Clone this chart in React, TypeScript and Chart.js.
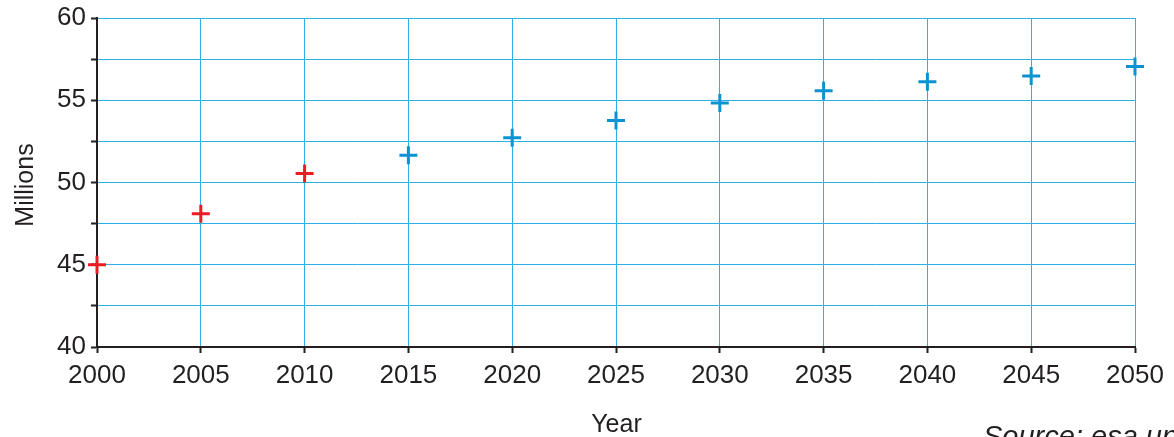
import React, { useEffect, useRef } from "react";
import { Chart, registerables } from "chart.js";

Chart.register(...registerables);

const actualYears = [2000, 2005, 2010];
const actualValues = [45.0, 48.1, 50.55];
const projectedYears = [2015, 2020, 2025, 2030, 2035, 2040, 2045, 2050];
const projectedValues = [51.66, 52.72, 53.77, 54.84, 55.57, 56.12, 56.48, 57.05];
const yLabelTicks = [40, 45, 50, 55, 60];
const xTitle = "Year";
const yTitle = "Millions";
const sourceText = "Source: esa.un.org";

const FONT = "'Liberation Sans', Arial, Helvetica, sans-serif";
const INK = "#231f20";
const GRID = "#29b0e6";

export default function App() {
  const ref = useRef<HTMLCanvasElement>(null);
  useEffect(() => {
    if (!ref.current) return;
    const titles = {
      id: "titles",
      afterDraw(chart: any) {
        const ctx = chart.ctx;
        ctx.save();
        ctx.fillStyle = INK;
        ctx.font = `25px ${FONT}`;
        ctx.textAlign = "center";
        ctx.textBaseline = "alphabetic";
        ctx.fillText(xTitle, 616.5, 432);
        ctx.save();
        ctx.translate(33, 185);
        ctx.rotate(-Math.PI / 2);
        ctx.fillText(yTitle, 0, 0);
        ctx.restore();
        ctx.font = `italic 29px ${FONT}`;
        ctx.textAlign = "left";
        ctx.fillText(sourceText, 983, 446);
        ctx.restore();
      },
    };
    const chart = new Chart(ref.current, {
      type: "scatter",
      data: {
        datasets: [
          {
            data: actualYears.map((x, i) => ({ x, y: actualValues[i] })),
            pointStyle: "cross",
            pointRadius: 9,
            pointBorderWidth: 3,
            borderColor: "#ed1c24",
            backgroundColor: "#ed1c24",
            clip: false,
          } as any,
          {
            data: projectedYears.map((x, i) => ({ x, y: projectedValues[i] })),
            pointStyle: "cross",
            pointRadius: 9,
            pointBorderWidth: 3,
            borderColor: "#0a93d3",
            backgroundColor: "#0a93d3",
            clip: false,
          } as any,
        ],
      },
      options: {
        responsive: false,
        animation: false,
        layout: { padding: { top: 18, right: 39, left: 0, bottom: 0 } },
        plugins: { legend: { display: false }, tooltip: { enabled: false } },
        scales: {
          x: {
            type: "linear",
            min: 2000,
            max: 2050,
            afterFit: (s: any) => {
              s.height = 90;
              s.paddingLeft = 0;
              s.paddingRight = 0;
            },
            ticks: {
              stepSize: 5,
              font: { family: FONT, size: 26 },
              color: INK,
              padding: 7,
              maxRotation: 0,
              callback: (v: any) => String(v),
            },
            grid: { color: GRID, lineWidth: 1, tickColor: INK, tickLength: 6, tickWidth: 2 },
            border: { color: INK, width: 2 },
          },
          y: {
            type: "linear",
            min: 40,
            max: 60,
            afterFit: (s: any) => {
              s.width = 97;
              s.paddingTop = 0;
              s.paddingBottom = 0;
            },
            ticks: {
              stepSize: 2.5,
              font: { family: FONT, size: 26 },
              color: INK,
              padding: 5,
              callback: (v: any) => (yLabelTicks.includes(Number(v)) ? String(v) : ""),
            },
            grid: { color: GRID, lineWidth: 1, tickColor: INK, tickLength: 6, tickWidth: 2 },
            border: { color: INK, width: 2 },
          },
        },
      },
      plugins: [titles],
    });
    return () => chart.destroy();
  }, []);
  return (
    <div style={{ position: "fixed", left: 0, top: 0, width: 1174, height: 437, background: "#fff" }}>
      <canvas ref={ref} width={1174} height={437} />
    </div>
  );
}
